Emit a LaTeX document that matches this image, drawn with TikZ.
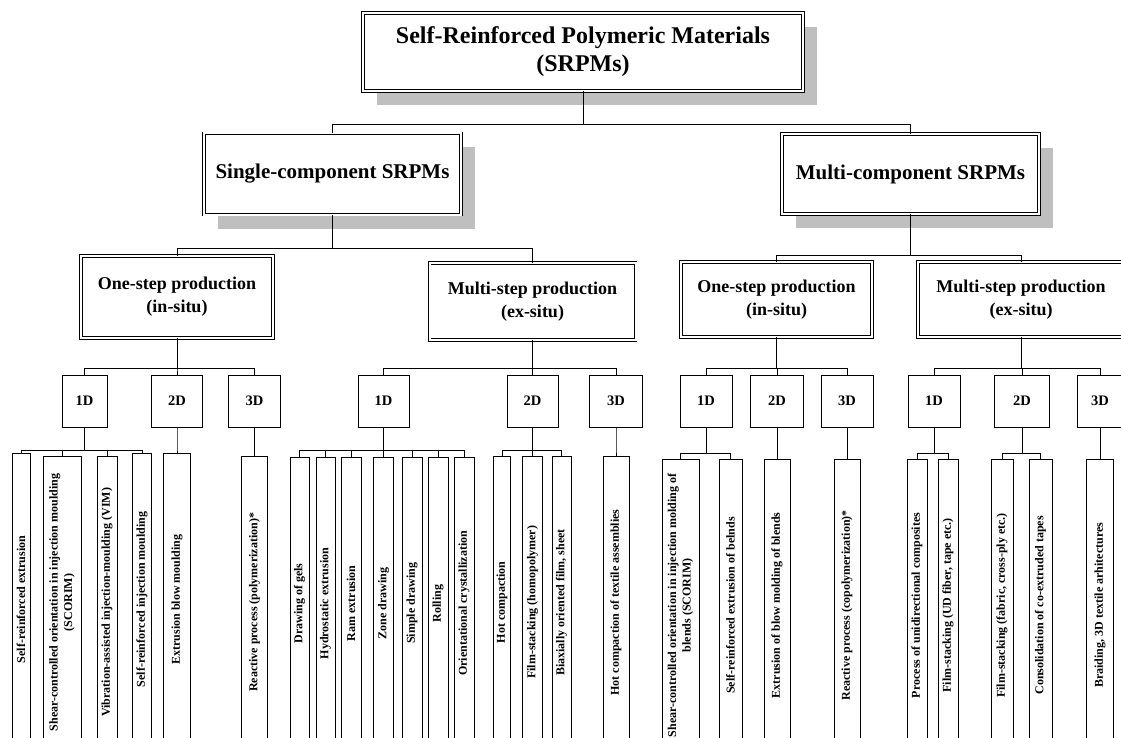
\documentclass[tikz,border=0pt]{standalone}
\usepackage{fontspec}
\setmainfont{Liberation Serif}
\usetikzlibrary{shadows}

\tikzset{
  box/.style={draw, line width=0.8pt, fill=white, align=center, inner sep=0pt},
  dbox/.style={box, double, double distance=2pt, line width=0.8pt},
  sbox/.style={dbox, drop shadow={shadow xshift=14pt, shadow yshift=-14pt, fill=black!25, opacity=1}},
  lvl/.style={dbox, font=\fontsize{18}{23}\selectfont\bfseries},
  dim/.style={box, minimum width=52, minimum height=52, font=\fontsize{14.5}{16}\selectfont\bfseries},
  leaf/.style={box, rotate=90, anchor=east, minimum width=292, font=\fontsize{12}{14.5}\selectfont\bfseries},
  wire/.style={line width=0.8pt}
}
% tree fork: parent, bus height, children, child anchor
\newcommand{\fork}[4]{\foreach \ch in {#3}
  \draw[wire] (#1.south) -- (#1.south |- 0,#2) -| (\ch.#4);}

\begin{document}
\begin{tikzpicture}[x=1pt,y=-1pt]
\useasboundingbox (0,0) rectangle (1121,738);

\node[sbox, minimum width=440, minimum height=78, font=\fontsize{24}{28}\selectfont\bfseries] (srpm) at (583,52)
  {Self-Reinforced Polymeric Materials\\(SRPMs)};
\node[sbox, minimum width=257, minimum height=81, font=\fontsize{21}{25}\selectfont\bfseries] (single) at (332.5,174) {Single-component SRPMs};
\node[sbox, minimum width=257, minimum height=80, font=\fontsize{21}{25}\selectfont\bfseries] (multi) at (910.5,174) {Multi-component SRPMs};

\node[lvl, minimum width=192, minimum height=82] (sone) at (177,297) {One-step production\\(in-situ)};
\node[lvl, minimum width=206, minimum height=77] (smulti) at (532.5,301.5) {Multi-step production\\(ex-situ)};
\node[lvl, minimum width=191, minimum height=75] (mone) at (776.5,299.5) {One-step production\\(in-situ)};
\node[lvl, minimum width=206, minimum height=75] (mmulti) at (1021,299.5) {Multi-step production\\(ex-situ)};

\foreach \n/\x/\w/\t in {s1d/84.5/45/1D, s2d/177/51/2D, s3d/254.5/52/3D,
  sx1d/383.5/51/1D, sx2d/532.5/51/2D, sx3d/616/53/3D,
  m1d/706/52/1D, m2d/777/53/2D, m3d/847/52/3D,
  mx1d/934/52/1D, mx2d/1022/55/2D, mx3d/1100/46/3D}
  \node[dim, minimum width=\w] (\n) at (\x,401) {\t};

\foreach \n/\x/\w/\y/\t in {
  a1/21/18/453/{Self-reinforced extrusion},
  a2/62/38/456/{Shear-controlled orientation in injection moulding\\(SCORIM)},
  a3/107/20/456/{Vibration-assisted injection-moulding (VIM)},
  a4/142/19/453/{Self-reinforced injection moulding},
  b1/177/27/453/{Extrusion blow moulding},
  c1/254.5/26/456/{Reactive process (polymerization)*},
  d1/299.5/19/457/{Drawing of gels},
  d2/325.5/19/457/{Hydrostatic extrusion},
  d3/351/20/457/{Ram extrusion},
  d4/383.5/20/457/{Zone drawing},
  d5/412/20/457/{Simple drawing},
  d6/438/20/457/{Rolling},
  d7/464/20/457/{Orientational crystallization},
  e1/502/17/456/{Hot compaction},
  e2/532.5/20/456/{Film-stacking (homopolymer)},
  e3/561.5/19/456/{Biaxially oriented film, sheet},
  f1/616/26/456/{Hot compaction of textile assemblies},
  g1/680.5/37/459/{Shear-controlled orientation in injection molding of\\blends (SCORIM)},
  g2/730.5/23/459/{Self-reinforced extrusion of belnds},
  h1/777/26/459/{Extrusion of blow molding of blends},
  i1/847/26/459/{Reactive process (copolymerization)*},
  j1/917/20/459/{Process of unidirectional composites},
  j2/948/20/459/{Film-stacking (UD fiber, tape etc.)},
  k1/1002/22/459/{Film-stacking (fabric, cross-ply etc.)},
  k2/1040.5/23/459/{Consolidation of co-extruded tapes},
  l1/1100/27/459/{Braiding, 3D textile arhitectures}}
  \node[leaf, minimum height=\w] (\n) at (\x,\y) {\t};

\fork{srpm}{124}{single,multi}{north}
\fork{single}{248}{sone,smulti}{north}
\fork{multi}{255}{mone,mmulti}{north}
\fork{sone}{368}{s1d,s2d,s3d}{north}
\fork{smulti}{368}{sx1d,sx2d,sx3d}{north}
\fork{mone}{368}{m1d,m2d,m3d}{north}
\fork{mmulti}{368}{mx1d,mx2d,mx3d}{north}
\fork{s1d}{450}{a1,a2,a3,a4}{east}
\fork{s2d}{450}{b1}{east}
\fork{s3d}{450}{c1}{east}
\fork{sx1d}{450}{d1,d2,d3,d4,d5,d6,d7}{east}
\fork{sx2d}{450}{e1,e2,e3}{east}
\fork{sx3d}{450}{f1}{east}
\fork{m1d}{453}{g1,g2}{east}
\fork{m2d}{453}{h1}{east}
\fork{m3d}{453}{i1}{east}
\fork{mx1d}{453}{j1,j2}{east}
\fork{mx2d}{453}{k1,k2}{east}
\fork{mx3d}{453}{l1}{east}
\end{tikzpicture}
\end{document}
